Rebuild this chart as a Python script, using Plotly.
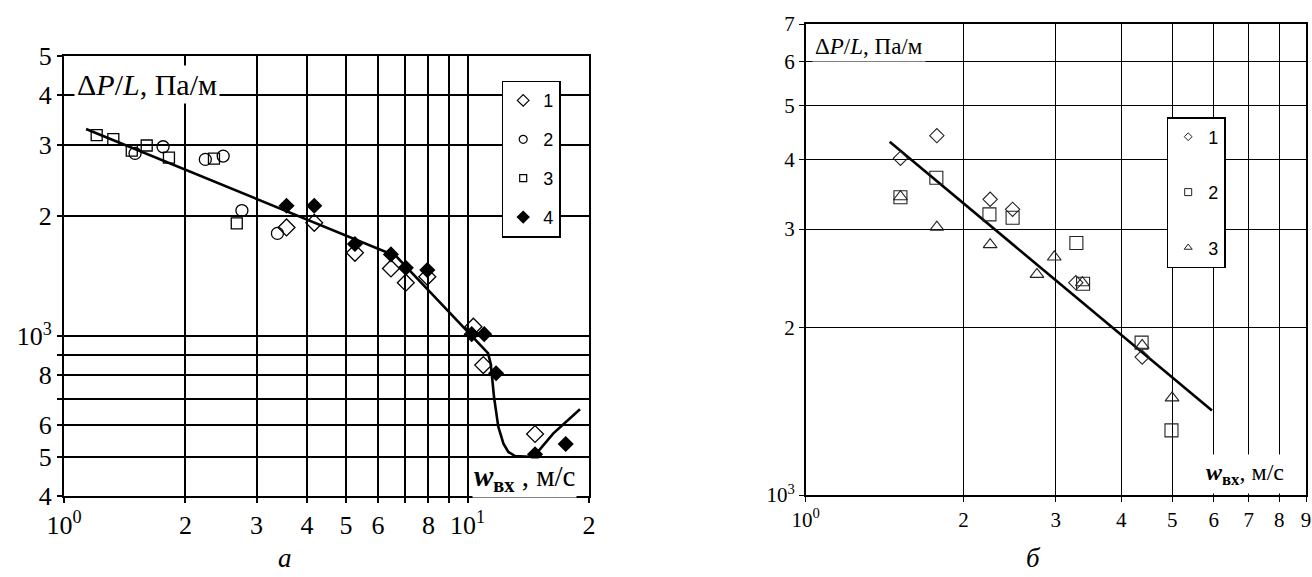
import math
import plotly.graph_objects as go

# ---------------- data: panel "а" ----------------
a_s1_x = [3.56, 4.17, 5.26, 6.46, 7.03, 7.95, 10.34, 10.94, 14.70]
a_s1_y = [1869, 1919, 1616, 1477, 1361, 1408, 1057, 848, 571]
a_s2_x = [1.50, 1.76, 2.24, 2.48, 2.76, 3.38]
a_s2_y = [2859, 2970, 2762, 2815, 2059, 1806]
a_s3_x = [1.205, 1.325, 1.472, 1.603, 1.82, 2.353, 2.68]
a_s3_y = [3176, 3104, 2903, 2991, 2791, 2775, 1914]
a_s4_x = [3.56, 4.17, 5.26, 6.46, 7.03, 7.95, 10.24, 11.0, 11.77, 14.70, 17.51]
a_s4_y = [2117, 2117, 1699, 1601, 1482, 1463, 1013, 1013, 809, 508, 539]
a_fit_x = [1.134, 6.65, 11.24, 11.41, 11.48, 11.63, 11.92, 12.27, 12.62, 13.12, 14.28, 14.70, 16.32, 19.0]
a_fit_y = [3289, 1585, 908, 856, 809, 707, 595, 541, 515, 503, 501, 506, 573, 658]

a_xtickvals = [1, 2, 3, 4, 5, 6, 7, 8, 9, 10, 20]
a_xticktext = ["10<sup>0</sup>", "2", "3", "4", "5", "6", " ", "8", " ", "10<sup>1</sup>", "2"]
a_ytickvals = [400, 500, 600, 700, 800, 900, 1000, 2000, 3000, 4000, 5000]
a_yticktext = ["4", "5", "6", " ", "8", " ", "10<sup>3</sup>", "2", "3", "4", "5"]
a_names = ["1", "2", "3", "4"]

# ---------------- data: panel "б" ----------------
b_s1_x = [1.516, 1.779, 2.248, 2.481, 3.275, 4.383]
b_s1_y = [4019, 4413, 3393, 3255, 2404, 1768]
b_s2_x = [1.516, 1.775, 2.241, 2.481, 3.283, 3.381, 4.372, 4.985]
b_s2_y = [3421, 3709, 3188, 3144, 2833, 2394, 1877, 1306]
b_s3_x = [1.516, 1.779, 2.248, 2.761, 2.979, 3.371, 4.383, 4.998]
b_s3_y = [3429, 3025, 2814, 2488, 2673, 2404, 1856, 1494]
b_fit_x = [1.446, 5.955]
b_fit_y = [4302, 1418]

b_xtickvals = [1, 2, 3, 4, 5, 6, 7, 8, 9]
b_xticktext = ["10<sup>0</sup>", "2", "3", "4", "5", "6", "7", "8", "9"]
b_ytickvals = [1000, 2000, 3000, 4000, 5000, 6000, 7000]
b_yticktext = ["10<sup>3</sup>", "2", "3", "4", "5", "6", "7"]
b_names = ["1", "2", "3"]

W, H = 1312, 577
SERIF = "Liberation Serif, Times New Roman, serif"
SANS = "Liberation Sans, Arial, sans-serif"

fig = go.Figure()

# ----- panel a traces -----
fig.add_trace(go.Scatter(x=a_fit_x, y=a_fit_y, mode="lines", line=dict(color="black", width=2.6),
                         xaxis="x", yaxis="y", showlegend=False, hoverinfo="skip"))
a_sym = [("diamond-open", 13, a_s1_x, a_s1_y, 9), ("circle-open", 12, a_s2_x, a_s2_y, 8),
         ("square-open", 11, a_s3_x, a_s3_y, 7), ("diamond", 11, a_s4_x, a_s4_y, 9)]
for name, (sym, sz, xs, ys, lsz) in zip(a_names, a_sym):
    fig.add_trace(go.Scatter(x=xs, y=ys, mode="markers", xaxis="x", yaxis="y",
                             marker=dict(symbol=sym, size=sz, color="black", line=dict(color="black", width=1.3)),
                             showlegend=False))
    fig.add_trace(go.Scatter(x=[None], y=[None], mode="markers", xaxis="x", yaxis="y", name=name,
                             legend="legend", legendgroup="a" + name,
                             marker=dict(symbol=sym, size=lsz, color="black", line=dict(color="black", width=1.2))))

# ----- panel b traces -----
fig.add_trace(go.Scatter(x=b_fit_x, y=b_fit_y, mode="lines", line=dict(color="black", width=2.6),
                         xaxis="x2", yaxis="y2", showlegend=False, hoverinfo="skip"))
b_sym = [("diamond-open", 11, b_s1_x, b_s1_y, 6), ("square-open", 13, b_s2_x, b_s2_y, 7),
         ("triangle-up-open", 12, b_s3_x, b_s3_y, 7)]
for name, (sym, sz, xs, ys, lsz) in zip(b_names, b_sym):
    fig.add_trace(go.Scatter(x=xs, y=ys, mode="markers", xaxis="x2", yaxis="y2",
                             marker=dict(symbol=sym, size=sz, color="#222", line=dict(color="#222", width=1.1)),
                             showlegend=False))
    fig.add_trace(go.Scatter(x=[None], y=[None], mode="markers", xaxis="x2", yaxis="y2", name=name,
                             legend="legend2", legendgroup="b" + name,
                             marker=dict(symbol=sym, size=lsz, color="#222", line=dict(color="#222", width=1))))

def px_x(p):
    return p / W

def px_y(p):
    return 1 - p / H

ax_common = dict(type="log", showgrid=True, gridcolor="black", showline=True, mirror=True,
                 linecolor="black", ticks="outside", ticklen=5, tickcolor="black",
                 zeroline=False, tickmode="array", automargin=False, tickangle=0)

fig.update_layout(
    template="none",
    width=W, height=H, autosize=False,
    margin=dict(l=0, r=0, t=0, b=0, pad=0),
    paper_bgcolor="white", plot_bgcolor="white",
    font=dict(family=SERIF, color="black"),
    xaxis=dict(**ax_common, domain=[px_x(64), px_x(589)], range=[0, math.log10(20)],
               tickvals=a_xtickvals, ticktext=a_xticktext, gridwidth=2, linewidth=2, tickwidth=1.5,
               tickfont=dict(family=SERIF, size=26, color="black"), anchor="y"),
    yaxis=dict(**ax_common, domain=[px_y(496), px_y(56)], range=[math.log10(400), math.log10(5000)],
               tickvals=a_ytickvals, ticktext=a_yticktext, gridwidth=2, linewidth=2, tickwidth=1.5,
               tickfont=dict(family=SERIF, size=26, color="black"), anchor="x"),
    xaxis2=dict(**ax_common, domain=[px_x(805.7), px_x(1306)], range=[0, math.log10(9)],
                tickvals=b_xtickvals, ticktext=b_xticktext, gridwidth=1.3, linewidth=1.5, tickwidth=1.2,
                tickfont=dict(family=SERIF, size=21, color="black"), anchor="y2"),
    yaxis2=dict(**ax_common, domain=[px_y(495), px_y(24)], range=[3, math.log10(7000)],
                tickvals=b_ytickvals, ticktext=b_yticktext, gridwidth=1.3, linewidth=1.5, tickwidth=1.2,
                tickfont=dict(family=SERIF, size=21, color="black"), anchor="x2"),
    legend=dict(x=px_x(501.7), y=px_y(80.7), xanchor="left", yanchor="top",
                bgcolor="white", bordercolor="black", borderwidth=1.5, tracegroupgap=12.5,
                font=dict(family=SANS, size=18, color="black")),
    legend2=dict(x=px_x(1166.7), y=px_y(117), xanchor="left", yanchor="top",
                 bgcolor="white", bordercolor="black", borderwidth=1.5, tracegroupgap=29,
                 font=dict(family=SANS, size=18, color="black")),
)

annotations = [
    dict(text="Δ<i>P</i>/<i>L</i>, Па/м", x=px_x(74), y=px_y(85), xanchor="left", yanchor="middle",
         font=dict(family=SERIF, size=30, color="black"), bgcolor="white", borderpad=2),
    dict(text="<b><i>w</i></b><sub><b>вх</b></sub> , м/с", x=px_x(472), y=px_y(478), xanchor="left",
         yanchor="middle", font=dict(family=SERIF, size=29, color="black"), bgcolor="white", borderpad=1),
    dict(text="Δ<i>P</i>/<i>L</i>, Па/м", x=px_x(812), y=px_y(47), xanchor="left", yanchor="middle",
         font=dict(family=SERIF, size=23, color="black"), bgcolor="white", borderpad=2),
    dict(text="<b><i>w</i></b><sub><b>вх</b></sub>, м/с", x=px_x(1201), y=px_y(474), xanchor="left",
         yanchor="middle", font=dict(family=SERIF, size=24, color="black"), bgcolor="white", borderpad=4),
    dict(text="<i>а</i>", x=px_x(285), y=px_y(558), xanchor="center", yanchor="middle",
         font=dict(family=SERIF, size=27, color="black")),
    dict(text="<i>б</i>", x=px_x(1033), y=px_y(558), xanchor="center", yanchor="middle",
         font=dict(family=SERIF, size=27, color="black")),
]
for a in annotations:
    a.update(xref="paper", yref="paper", showarrow=False)
fig.update_layout(annotations=annotations)

fig.write_html("out.html")
